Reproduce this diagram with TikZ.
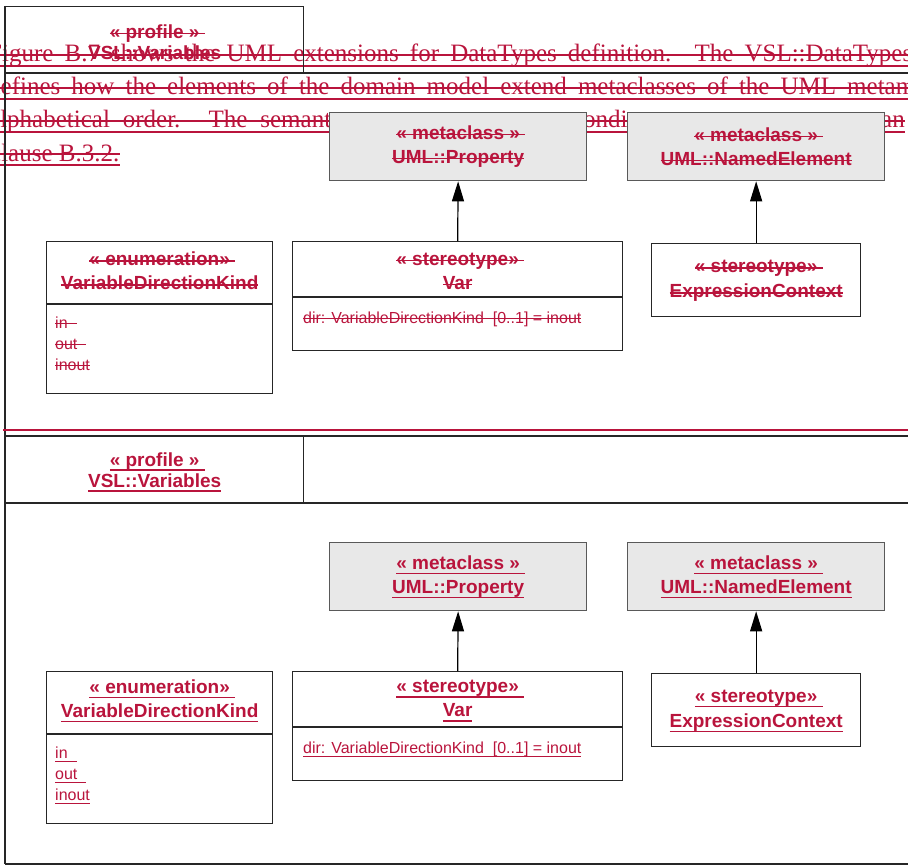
\documentclass[tikz,border=0pt]{standalone}
\usepackage{fontspec}
\setmainfont{Liberation Sans}
\newfontfamily\parfont{Liberation Serif}
\usetikzlibrary{arrows.meta}
\definecolor{delred}{RGB}{185,20,60}
\definecolor{metagray}{RGB}{232,232,232}
\newlength\mkwd
\newcommand{\delt}[1]{\settowidth{\mkwd}{#1}\rlap{\rule[0.22em]{\mkwd}{1.4pt}}#1}
\newcommand{\inst}[1]{\settowidth{\mkwd}{#1}\rlap{\rule[-0.25em]{\mkwd}{1.4pt}}#1}
\tikzset{
  classbox/.style={draw=black!85, line width=1.3pt, inner sep=0pt, anchor=north west},
  boxtitle/.style={text=delred, font=\fontsize{19}{24}\selectfont\bfseries, align=center},
  metabox/.style={classbox, boxtitle, fill=metagray, draw=black!65},
  classline/.style={black!85, line width=1.3pt},
  litext/.style={text=delred, font=\fontsize{16}{20}\selectfont, inner sep=0pt, anchor=base west},
  partext/.style={text=delred, font=\parfont\fontsize{25}{30}\selectfont, inner sep=0pt, anchor=base west},
  parline/.style={delred, line width=1.8pt},
  framerule/.style={black!85, line width=1.5pt},
  genarrow/.style={-{Triangle[length=20pt,width=12pt]}, line width=1.2pt},
}

\begin{document}
\begin{tikzpicture}[x=1pt,y=-1pt]
  \useasboundingbox (0,0) rectangle (908,867);
  \clip (0,0) rectangle (908,867);
  \node[partext] (par1) at (-12,62) {\makebox[924pt][s]{Figure B.7 shows the UML extensions for DataTypes definition. The VSL::DataTypes}};
  \node[partext] (par2) at (-12,95) {\makebox[927pt][s]{defines how the elements of the domain model extend metaclasses of the UML metam}};
  \node[partext] (par3) at (-11,128) {\makebox[342pt][s]{alphabetical order. The semant}};
  \node[partext] (par3b) at (583,128) {ondi};
  \node[partext] (par3c) at (881,128) {an};
  \node[partext] (par4) at (-10,161) {clause B.3.2.};
  \foreach \n in {par1,par2,par3,par3b,par3c,par4} {
    \draw[parline] ([yshift=7pt]\n.base west) -- ([yshift=7pt]\n.base east);
    \draw[parline] ([yshift=-4pt]\n.base west) -- ([yshift=-4pt]\n.base east);
  }
  \draw[framerule] (5,6) -- (5,864);
  \draw[framerule] (5,73) -- (908,73);
  \draw[delred, line width=2.5pt] (3,430) -- (908,430);
  \draw[framerule] (5,436) -- (908,436);
  \draw[framerule] (5,503) -- (908,503);
  \draw[framerule] (5,864) -- (908,864);
  \foreach \dy/\mk/\s in {0/\delt/a,430/\inst/b} {
    \node[classbox, minimum width=298pt, minimum height=67pt] (hdr\s) at (5,{6+\dy}) {};
    \node[boxtitle, font=\fontsize{19}{21}\selectfont\bfseries] (hdrt\s) at ([yshift=-36pt]hdr\s.north) {\mk{« profile »\ }\\\mk{VSL::Variables}};
    \node[metabox, minimum width=257pt, minimum height=68pt] (prop\s) at (329,{112+\dy}) {\mk{« metaclass »\ }\\\mk{UML::Property}};
    \node[metabox, minimum width=257pt, minimum height=68pt] (named\s) at (627,{112+\dy}) {\mk{« metaclass »\ }\\\mk{UML::NamedElement}};
    \node[classbox, minimum width=226pt, minimum height=152pt] (enum\s) at (46,{241+\dy}) {};
    \node[boxtitle] (enumt\s) at ([yshift=-30pt]enum\s.north) {\mk{« enumeration»\ }\\\mk{VariableDirectionKind}};
    \draw[classline] ([yshift=-63pt]enum\s.north west) -- ([yshift=-63pt]enum\s.north east);
    \node[litext] (lin\s) at (55,{328+\dy}) {\mk{in\ \ }};
    \node[litext] (lout\s) at (55,{349+\dy}) {\mk{out\ \ }};
    \node[litext] (linout\s) at (55,{370+\dy}) {\mk{inout}};
    \node[classbox, minimum width=330pt, minimum height=109pt] (var\s) at (292,{241+\dy}) {};
    \node[boxtitle] (vart\s) at ([yshift=-30pt]var\s.north) {\mk{« stereotype»\ }\\\mk{Var}};
    \draw[classline] ([yshift=-56pt]var\s.north west) -- ([yshift=-56pt]var\s.north east);
    \node[litext] (dir\s) at (303,{323+\dy}) {\mk{dir: VariableDirectionKind\ \ [0..1] = inout}};
    \node[classbox, minimum width=209pt, minimum height=73pt] (expr\s) at (651,{243+\dy}) {};
    \node[boxtitle, font=\fontsize{19}{25}\selectfont\bfseries] (exprt\s) at ([yshift=-38pt]expr\s.north) {\mk{« stereotype»\ }\\\mk{ExpressionContext}};
    \draw[genarrow] (var\s.north) -- (prop\s.south);
    \draw[genarrow] (expr\s.north) -- (named\s.south);
  }
\end{tikzpicture}
\end{document}
